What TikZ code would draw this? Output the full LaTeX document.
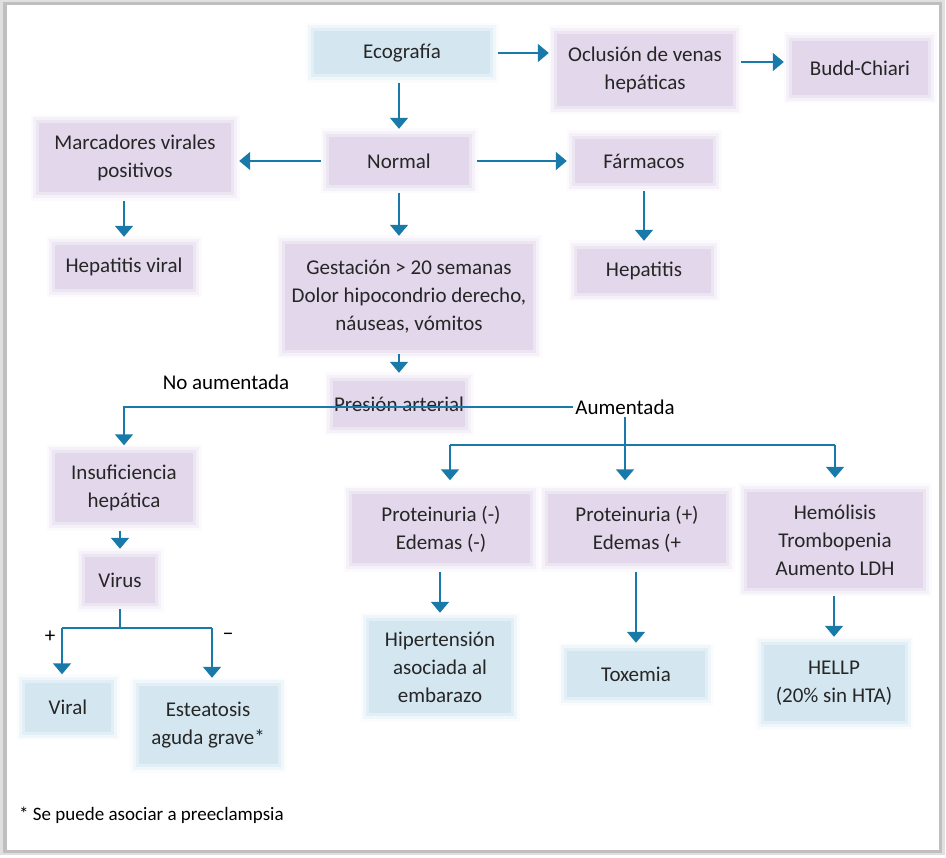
\documentclass[tikz,border=0pt]{standalone}
\usepackage{fontspec}
\setmainfont{Carlito}
\usetikzlibrary{arrows.meta}
\definecolor{lila}{RGB}{226,215,235}
\definecolor{celeste}{RGB}{212,231,241}
\definecolor{flecha}{RGB}{25,122,170}
\definecolor{texto}{RGB}{38,38,38}

\begin{document}
\begin{tikzpicture}[x=1pt, y=-1pt,
  every node/.style={font=\fontsize{21}{28}\selectfont, text=texto},
  caja/.style={align=center, inner sep=0pt},
  lilabox/.style={caja, fill=lila,
    preaction={draw=lila!12, line width=17pt},
    preaction={draw=lila!35, line width=12pt},
    preaction={draw=lila!65, line width=6pt}},
  celbox/.style={caja, fill=celeste,
    preaction={draw=celeste!12, line width=17pt},
    preaction={draw=celeste!35, line width=12pt},
    preaction={draw=celeste!65, line width=6pt}},
  rotulo/.style={text=black, inner sep=2pt},
  linea/.style={draw=flecha, line width=1.5pt},
  arr/.style={linea, -{Triangle[width=18pt,length=11pt]}, shorten <=8pt, shorten >=8pt}]

  \useasboundingbox (0,0) rectangle (946,858);
  % marco
  \fill[black!12] (0,0) rectangle (945,855);
  \fill[black!25] (3,2) rectangle (942,853);
  \fill[white] (7,5) rectangle (939,850);

  % fila superior
  \node[celbox, minimum width=176pt, minimum height=43pt] (eco) at (402,53) {Ecografía};
  \node[lilabox, minimum width=176pt, minimum height=72pt] (ocl) at (645,70) {Oclusión de venas\\hepáticas};
  \node[lilabox, minimum width=136pt, minimum height=54pt] (budd) at (860,68) {Budd-Chiari};

  \node[lilabox, minimum width=140pt, minimum height=48pt] (normal) at (399,161) {Normal};
  \node[lilabox, minimum width=192pt, minimum height=69pt] (marc) at (135,158) {Marcadores virales\\positivos};
  \node[lilabox, minimum width=138pt, minimum height=44pt] (farm) at (644,161) {Fármacos};
  \node[lilabox, minimum width=138pt, minimum height=44pt] (hepv) at (124,267) {Hepatitis viral};
  \node[lilabox, minimum width=134pt, minimum height=44pt] (hep) at (644,271) {Hepatitis};
  \node[lilabox, minimum width=248pt, minimum height=106pt] (gest) at (409,297) {Gestación > 20 semanas\\Dolor hipocondrio derecho,\\náuseas, vómitos};
  \node[lilabox, minimum width=132pt, minimum height=46pt] (pres) at (399,404) {Presión arterial};

  % rama izquierda
  \node[lilabox, minimum width=138pt, minimum height=69pt] (insuf) at (124,488) {Insuficiencia\\hepática};
  \node[lilabox, minimum width=70pt, minimum height=46pt] (virus) at (120,580) {Virus};
  \node[celbox, minimum width=86pt, minimum height=49pt] (viral) at (68,707) {Viral};
  \node[celbox, minimum width=139pt, minimum height=78pt] (estea) at (208,725) {Esteatosis\\aguda grave*};

  % rama derecha
  \node[lilabox, minimum width=178pt, minimum height=69pt] (prot1) at (441,529) {Proteinuria (-)\\Edemas (-)};
  \node[lilabox, minimum width=178pt, minimum height=69pt] (prot2) at (637,529) {Proteinuria (+)\\Edemas (+};
  \node[lilabox, minimum width=176pt, minimum height=96pt] (hem) at (835,540) {Hemólisis\\Trombopenia\\Aumento LDH};
  \node[celbox, minimum width=142pt, minimum height=92pt] (hiper) at (440,667) {Hipertensión\\asociada al\\embarazo};
  \node[celbox, minimum width=138pt, minimum height=46pt] (tox) at (636,674) {Toxemia};
  \node[celbox, minimum width=141pt, minimum height=76pt] (hellp) at (834,683) {HELLP\\(20\% sin HTA)};

  % rotulos
  \node[rotulo] (noaum) at (226,382) {No aumentada};
  \node[rotulo] (aum) at (625,407) {Aumentada};
  \node[rotulo] (mas) at (50,637) {+};
  \node[rotulo] (menos) at (228,637) {−};
  \node[rotulo, anchor=west, font=\fontsize{19}{24}\selectfont] (nota) at (17,815) {* Se puede asociar a preeclampsia};

  \coordinate (j1) at (450,445);
  \coordinate (j2) at (625,445);
  \coordinate (j3) at (835,445);
  \coordinate (v1) at (62,628);
  \coordinate (v2) at (212,628);

  % flechas
  \draw[arr] (eco.east) -- (ocl.west |- eco.east);
  \draw[arr] (ocl.east |- 0,62) -- (budd.west |- 0,62);
  \draw[arr] (eco.south -| normal.north) -- (normal.north);
  \draw[arr] (normal.west) -- (marc.east |- normal.west);
  \draw[arr] (normal.east) -- (farm.west |- normal.east);
  \draw[arr] (marc.south -| hepv.north) -- (hepv.north);
  \draw[arr] (farm.south) -- (hep.north);
  \draw[arr] (normal.south) -- (normal.south |- gest.north);
  \draw[arr, shorten <=4pt] (gest.south -| pres.north) -- (pres.north);
  \draw[arr, shorten <=0pt] (aum.west) -- (insuf.north |- aum.west) -- (insuf.north);
  \draw[linea] (aum.south) -- (j2);
  \draw[linea] (j1) -- (j3);
  \draw[arr, shorten <=0pt, shorten >=14pt] (j1) -- (j1 |- prot1.north);
  \draw[arr, shorten <=0pt, shorten >=14pt] (j2) -- (j2 |- prot2.north);
  \draw[arr, shorten <=0pt, shorten >=14pt] (j3) -- (j3 |- hem.north);
  \draw[arr] (insuf.south -| virus.north) -- (virus.north);
  \draw[linea, shorten <=6pt] (virus.south) -- (virus.south |- v1);
  \draw[linea] (v1) -- (v2);
  \draw[arr, shorten <=0pt] (v1) -- (v1 |- viral.north);
  \draw[arr, shorten <=0pt] (v2) -- (v2 |- estea.north);
  \draw[arr] (prot1.south -| hiper.north) -- (hiper.north);
  \draw[arr] (prot2.south -| tox.north) -- (tox.north);
  \draw[arr] (hem.south -| hellp.north) -- (hellp.north);
\end{tikzpicture}
\end{document}
